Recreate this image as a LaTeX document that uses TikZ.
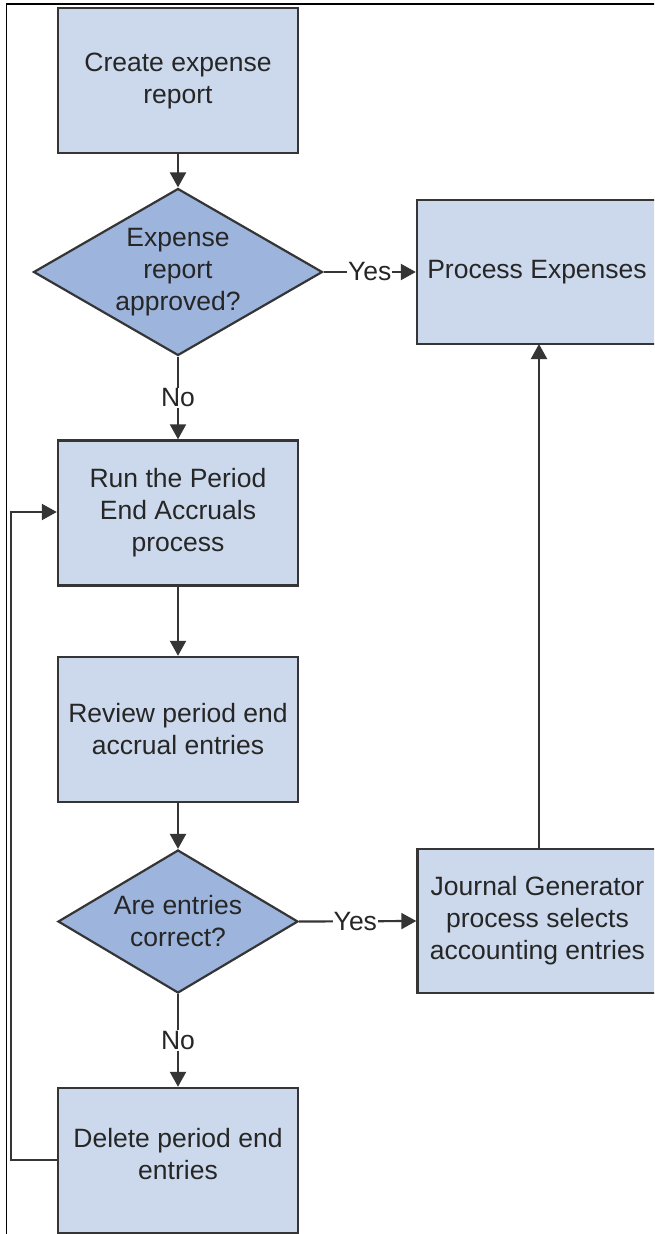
\documentclass[tikz,border=0pt]{standalone}
\usepackage{fontspec}
\setmainfont{Liberation Sans}
\usetikzlibrary{shapes.geometric,arrows.meta}
\definecolor{boxfill}{HTML}{CCD9EC}
\definecolor{decfill}{HTML}{9DB4DD}
\definecolor{edge}{HTML}{353535}
\definecolor{ink}{HTML}{262626}
\tikzset{
  box/.style={draw=edge, line width=2.4pt, fill=boxfill, rectangle, minimum width=240pt, minimum height=145pt, inner sep=0pt},
  dec/.style={draw=edge, line width=2.2pt, fill=decfill, diamond, inner sep=0pt},
  txt/.style={text=ink, align=center, font=\fontsize{26.5}{32}\selectfont, inner sep=0pt},
  lbl/.style={text=ink, font=\fontsize{26.5}{32}\selectfont, fill=white, inner sep=1pt},
  conn/.style={draw=edge, line width=2.2pt, -{Triangle[width=16pt,length=15pt]}},
  plain/.style={draw=edge, line width=2.2pt}
}
\begin{document}
\begin{tikzpicture}[x=1pt,y=-1pt]
\useasboundingbox (0,0) rectangle (654,1234);
\clip (0,0) rectangle (654,1234);
\fill[white] (0,0) rectangle (654,1234);
% frame
\draw[black, line width=1.5pt] (6.5,1240) -- (6.5,4) -- (660,4);
% nodes
\node[box] (b1) at (178,80.5) {};
\node[txt] at (b1) {Create expense\\report};
\node[dec, minimum width=289pt, minimum height=167pt] (d1) at (178,272) {};
\node[txt] at (d1) {Expense\\report\\approved?};
\node[box, minimum width=240pt, minimum height=144pt] (pe) at (537,272) {};
\node[txt] at (pe) {Process Expenses};
\node[box] (b2) at (178,513) {};
\node[txt] at (b2) {Run the Period\\End Accruals\\process};
\node[box] (b3) at (178,729.5) {};
\node[txt] at (b3) {Review period end\\accrual entries};
\node[dec, minimum width=240pt, minimum height=143pt] (d2) at (178,921.5) {};
\node[txt] at (d2) {Are entries\\correct?};
\node[box, minimum width=240pt, minimum height=144pt] (jg) at (537.5,921) {};
\node[txt] at (jg) {Journal Generator\\process selects\\accounting entries};
\node[box] (b4) at (178,1160.5) {};
\node[txt, anchor=north] at (178,1128) {Delete period end\\entries};
% connectors
\draw[conn] (b1.south) -- (d1.north);
\draw[conn] (d1.east) -- node[lbl, midway] (y1) {Yes} (pe.west);
\draw[conn] (d1.south) -- node[lbl, pos=0.5] (n1) {No} (b2.north);
\draw[conn] (b2.south) -- (b3.north);
\draw[conn] (b3.south) -- (d2.north);
\draw[conn] (d2.east) -- node[lbl, pos=0.48] (y2) {Yes} (jg.west);
\draw[conn] (d2.south) -- node[lbl, pos=0.5] (n2) {No} (b4.north);
\coordinate (jt) at (539,849);
\coordinate (pb) at (539,344);
\draw[conn] (jt) -- (pb);
\coordinate (lb) at (11,1160);
\coordinate (lt) at (11,512);
\draw[conn] (b4.west |- 0,1160) -- (lb) -- (lt) -- (b2.west |- 0,512);
\end{tikzpicture}
\end{document}
